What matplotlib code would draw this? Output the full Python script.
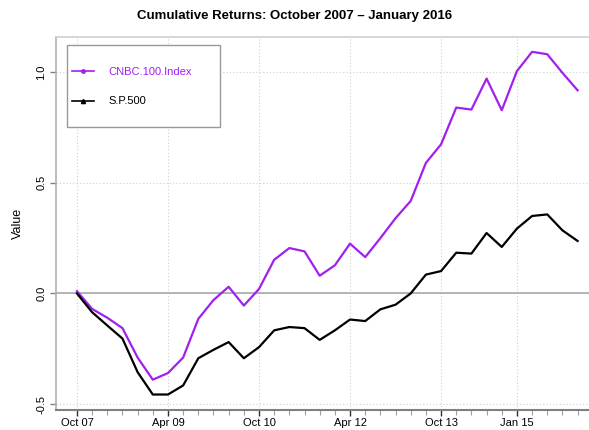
import matplotlib
matplotlib.use("Agg")
import matplotlib.pyplot as plt
from matplotlib.patches import Rectangle
from matplotlib.lines import Line2D

plt.rcParams['font.family'] = ['Liberation Sans', 'DejaVu Sans']

# quarterly observations, Oct 2007 .. Jan 2016
quarters = list(range(34))
cnbc = [0.01, -0.07, -0.11, -0.157, -0.29, -0.39, -0.36, -0.29, -0.115, -0.03,
        0.03, -0.055, 0.02, 0.152, 0.205, 0.19, 0.08, 0.127, 0.225, 0.164,
        0.25, 0.34, 0.418, 0.59, 0.674, 0.84, 0.831, 0.971, 0.828, 1.005,
        1.092, 1.081, 0.997, 0.918]
sp500 = [0.0, -0.085, -0.145, -0.204, -0.356, -0.457, -0.457, -0.416, -0.293, -0.255,
         -0.22, -0.293, -0.243, -0.167, -0.152, -0.157, -0.21, -0.167, -0.118, -0.125,
         -0.072, -0.051, 0.0, 0.085, 0.101, 0.184, 0.18, 0.273, 0.21, 0.293,
         0.35, 0.357, 0.285, 0.237]
tick_pos = [0, 6, 12, 18, 24, 29]
tick_labels = ["Oct 07", "Apr 09", "Oct 10", "Apr 12", "Oct 13", "Jan 15"]
y_ticks = [-0.5, 0.0, 0.5, 1.0]

purple = "#A020F0"
grid_gray = "#cfcfcf"

fig = plt.figure(figsize=(5.89, 4.30), dpi=100)
ax = fig.add_axes([56/589, 1 - 410/430, 533/589, 373/430])

ax.set_xlim(-1.38, 33.75)
ax.set_ylim(-0.527, 1.159)

# grid
for t in tick_pos:
    ax.axvline(t, color=grid_gray, lw=0.8, ls=(0, (1, 2)), zorder=0)
for v in y_ticks:
    ax.axhline(v, color=grid_gray, lw=0.8, ls=(0, (1, 2)), zorder=0)
ax.axhline(0, color="#a8a8a8", lw=1.2, zorder=1)

ax.plot(quarters, cnbc, color=purple, lw=1.6, zorder=3)
ax.plot(quarters, sp500, color="black", lw=1.6, zorder=3)

# spines
ax.spines["right"].set_visible(False)
ax.spines["top"].set_color("#d0d0d0")
ax.spines["top"].set_linewidth(1.2)
ax.spines["left"].set_color("#b0b0b0")
ax.spines["left"].set_linewidth(1.2)
ax.spines["bottom"].set_color("#808080")
ax.spines["bottom"].set_linewidth(1.5)

ax.set_xticks(quarters, minor=True)
ax.set_xticks(tick_pos)
ax.set_xticklabels(tick_labels, fontsize=8)
ax.tick_params(axis="x", which="major", length=4, width=1, color="#303030", pad=1.5)
ax.tick_params(axis="x", which="minor", length=3.5, width=0.8, color="#a0a0a0")

ax.set_yticks(y_ticks)
ax.set_yticklabels(["-0.5", "0.0", "0.5", "1.0"], fontsize=8, rotation=90, va="center")
ax.tick_params(axis="y", length=4, width=1, color="#808080", pad=3)
ax.set_ylabel("Value", fontsize=9, labelpad=9)

fig.text(0.5, 1 - 16/430, "Cumulative Returns: October 2007 \u2013 January 2016",
         ha="center", va="center", fontsize=9.5, fontweight="bold")

# legend box
ax.add_patch(Rectangle(((67 - 56)/533, 1 - (127 - 37)/373), 153/533, 82/373,
                       transform=ax.transAxes, fill=True, facecolor="white",
                       edgecolor="#999999", lw=1, zorder=5))
handles = [Line2D([], [], color=purple, lw=1.2, marker="o", markersize=2.5),
           Line2D([], [], color="black", lw=1.2, marker="^", markersize=3)]
leg = ax.legend(handles, ["CNBC.100.Index", "S.P.500"], loc="upper left",
                bbox_to_anchor=((72 - 56)/533, 1 - (67 - 37)/373), frameon=False,
                fontsize=8, handlelength=2.0, handletextpad=1.3, labelspacing=1.75,
                borderpad=0, borderaxespad=0)
leg.set_zorder(6)
leg.get_texts()[0].set_color(purple)

fig.savefig("out.png", dpi=100)
